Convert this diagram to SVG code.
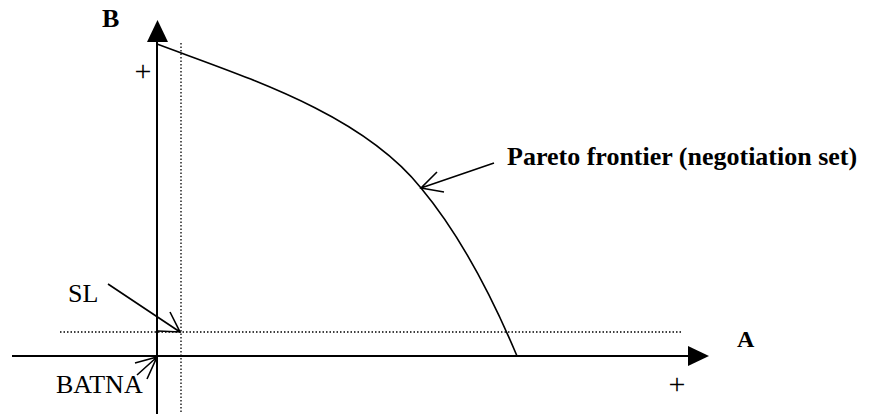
<svg xmlns="http://www.w3.org/2000/svg" width="872" height="414" viewBox="0 0 872 414">
<style>
.axis{stroke:#000;stroke-width:2;fill:none}
.dot{stroke:#000;stroke-width:1.3;stroke-dasharray:1.5 2;fill:none}
.thin{stroke:#000;stroke-width:1.6;fill:none}
.head{fill:#000;stroke:none}
text{font-family:"Liberation Serif","Times New Roman",serif;fill:#000;font-size:26px}
.b{font-weight:bold}
.plus{font-size:30px}
</style>
<rect width="872" height="414" fill="#fff"/>
<g id="axes">
<line class="axis" x1="157" y1="414" x2="157" y2="40"/>
<polygon class="head" points="147,42 168,42 157.5,20"/>
<line class="axis" x1="12" y1="356" x2="690" y2="356"/>
<polygon class="head" points="688,346 688,366 709,356"/>
</g>
<g id="guides">
<line class="dot" x1="181" y1="43" x2="181" y2="414"/>
<line class="dot" x1="60" y1="332" x2="683" y2="332"/>
</g>
<g id="frontier">
<path class="thin" d="M157,44 C245,77 361,113 421,188 C451,224 485,280 517,356"/>
</g>
<g id="connectors">
<path class="thin" d="M494,163 L421,188 M437,172 L421,188 L444,192"/>
<path class="thin" d="M108,284 L180,332 M170,312 L180,332 L158,331"/>
<path class="thin" d="M137,375 L157,357 M135,363 L157,357 L147,379"/>
</g>
<g id="labels">
<text class="b" x="102" y="27">B</text>
<text class="b" x="737" y="347" style="font-size:24px">A</text>
<text class="plus" x="143" y="81" text-anchor="middle">+</text>
<text class="plus" x="677" y="394" text-anchor="middle">+</text>
<text x="68" y="302">SL</text>
<text x="56" y="393">BATNA</text>
<text class="b" x="507" y="165">Pareto frontier (negotiation set)</text>
</g>
</svg>
